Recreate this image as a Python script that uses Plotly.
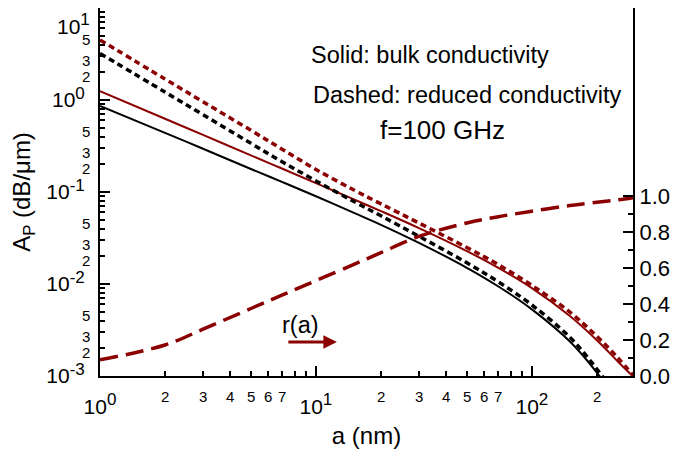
import numpy as np
import plotly.graph_objects as go

# ---------------- data ----------------
a_nm = [1, 2, 3, 5, 7, 10, 15, 20, 30, 50, 70, 100, 150, 200, 250, 294]
ap_black_bulk = [0.86, 0.44, 0.295, 0.178, 0.128, 0.09, 0.0593, 0.044, 0.028,
                 0.015, 0.0094, 0.0053, 0.00237, 0.00109, 0.00052, 0.00028]
ap_black_reduced = [3.21, 1.22, 0.692, 0.338, 0.212, 0.132, 0.0787, 0.0551, 0.033,
                    0.017, 0.01054, 0.00591, 0.00263, 0.00119, 0.00057, 0.00031]
ap_red_bulk = [1.25, 0.625, 0.417, 0.25, 0.179, 0.125, 0.083, 0.062, 0.0405,
               0.0228, 0.01496, 0.00902, 0.00449, 0.00245, 0.00144, 0.00099]
ap_red_reduced = [4.5, 1.69, 0.957, 0.468, 0.29, 0.176, 0.105, 0.0743, 0.046,
                  0.0249, 0.0162, 0.00966, 0.00495, 0.0027, 0.00158, 0.00102]
r_ratio = [0.09, 0.172, 0.26, 0.375, 0.45, 0.53, 0.62, 0.685, 0.775,
           0.85, 0.885, 0.915, 0.947, 0.965, 0.978, 0.99]

x_major = [1, 10, 100]
x_major_exp = ["0", "1", "2"]
x_minor_labels = [2, 3, 4, 5, 6, 7, 20, 30, 40, 50, 60, 70, 200]
y_major = [1e-3, 1e-2, 1e-1, 1, 10]
y_major_exp = ["-3", "-2", "-1", "0", "1"]
y_minor_labels = [0.002, 0.003, 0.005, 0.02, 0.03, 0.05, 0.2, 0.3, 0.5, 2, 3, 5]
r_ticks = [0.0, 0.2, 0.4, 0.6, 0.8, 1.0]
r_ticks_text = ["0.0", "0.2", "0.4", "0.6", "0.8", "1.0"]
r_minor = [0.1, 0.3, 0.5, 0.7, 0.9]

x_max = 294
DARKRED = "#8B0000"
FONT = "Liberation Sans, Arial, sans-serif"

x_minor_ticks = [m * d for d in (1, 10, 100) for m in range(2, 10) if m * d < x_max]
y_minor_ticks = [m * d for d in (1e-3, 1e-2, 1e-1, 1) for m in range(2, 10)]


def lead_digit(v):
    return str(int(round(v / 10 ** np.floor(np.log10(v)))))


def pow_label(e):
    return "10<sup><span style='font-size:17px'>%s</span></sup>" % e


x_major_text = [pow_label(e) for e in x_major_exp]
# the top label (10^1) is drawn as an annotation so it stays inside the page
y_major_text = [pow_label(e) for e in y_major_exp[:-1]] + [""]

fig = go.Figure()
fig.add_trace(go.Scatter(x=a_nm, y=ap_black_bulk, mode="lines",
                         line=dict(color="black", width=2, shape="spline")))
fig.add_trace(go.Scatter(x=a_nm, y=ap_red_bulk, mode="lines",
                         line=dict(color=DARKRED, width=2, shape="spline")))
fig.add_trace(go.Scatter(x=a_nm, y=ap_black_reduced, mode="lines",
                         line=dict(color="black", width=3.5, dash="6px,4px", shape="spline")))
fig.add_trace(go.Scatter(x=a_nm, y=ap_red_reduced, mode="lines",
                         line=dict(color=DARKRED, width=3.5, dash="6px,4px", shape="spline")))
fig.add_trace(go.Scatter(x=a_nm, y=r_ratio, mode="lines", yaxis="y2",
                         line=dict(color=DARKRED, width=3.5, dash="18px,8px", shape="spline")))

ann = []
for v in x_minor_labels:
    ann.append(dict(x=np.log10(v), xref="x", y=0, yref="paper", yanchor="top",
                    xanchor="center", yshift=-10, text=lead_digit(v),
                    showarrow=False, font=dict(size=15, color="black", family=FONT)))
for v in y_minor_labels:
    ann.append(dict(y=np.log10(v), yref="y", x=0, xref="paper", xanchor="right",
                    yanchor="middle", xshift=-8, yshift=-4, text=lead_digit(v),
                    showarrow=False, font=dict(size=15, color="black", family=FONT)))
ann.append(dict(x=0, xref="paper", y=1, yref="paper", xanchor="right", yanchor="top",
                xshift=-8, text=pow_label(y_major_exp[-1]), showarrow=False,
                font=dict(size=21, color="black", family=FONT)))

txtfont = dict(size=23.5, color="black", family=FONT)
ann += [
    dict(x=0.619, y=0.872, xref="paper", yref="paper", xanchor="center", yanchor="middle",
         text="Solid: bulk conductivity", showarrow=False, font=txtfont),
    dict(x=0.689, y=0.764, xref="paper", yref="paper", xanchor="center", yanchor="middle",
         text="Dashed: reduced conductivity", showarrow=False, font=txtfont),
    dict(x=0.642, y=0.668, xref="paper", yref="paper", xanchor="center", yanchor="middle",
         text="f=100 GHz", showarrow=False, font=dict(size=26, color="black", family=FONT)),
    dict(x=np.log10(8.5), y=-2.446, xref="x", yref="y", xanchor="center", yanchor="middle",
         text="r(a)", showarrow=False, font=txtfont),
    dict(x=np.log10(12.5), y=-2.63, xref="x", yref="y", text="", showarrow=True,
         ax=-50, ay=0, arrowhead=2, arrowsize=0.9, arrowwidth=3, arrowcolor=DARKRED,
         standoff=0),
]

axis_common = dict(showgrid=False, zeroline=False, showline=True, linewidth=2,
                   linecolor="black", ticks="inside", ticklen=10, tickwidth=2,
                   tickcolor="black", automargin=False)

fig.update_layout(
    width=696, height=456,
    margin=dict(l=92, r=71, t=0, b=88),
    plot_bgcolor="white", paper_bgcolor="white",
    showlegend=False,
    font=dict(family=FONT, color="black"),
    xaxis=dict(type="log", range=[0, np.log10(x_max)], tickmode="array",
               tickvals=x_major, ticktext=x_major_text, mirror=True,
               tickfont=dict(size=21), ticklabelstandoff=11,
               minor=dict(tickvals=x_minor_ticks, ticks="inside", ticklen=5,
                          tickwidth=1.5, tickcolor="black", showgrid=False),
               title=dict(text="a (nm)", font=dict(size=24), standoff=10),
               **axis_common),
    yaxis=dict(type="log", range=[-3, 1], tickmode="array",
               tickvals=y_major, ticktext=y_major_text,
               tickfont=dict(size=21), ticklabelstandoff=9,
               minor=dict(tickvals=y_minor_ticks, ticks="inside", ticklen=5,
                          tickwidth=1.5, tickcolor="black", showgrid=False),
               title=dict(text="A<sub>P</sub> (dB/μm)", font=dict(size=24), standoff=9),
               **axis_common),
    yaxis2=dict(overlaying="y", side="right", range=[0, 2.044], tickmode="array",
                tickvals=r_ticks, ticktext=r_ticks_text, tickfont=dict(size=22),
                minor=dict(tickvals=r_minor, ticks="inside", ticklen=5,
                           tickwidth=1.5, tickcolor="black", showgrid=False),
                **axis_common),
    annotations=ann,
)

fig.write_html("out.html")
